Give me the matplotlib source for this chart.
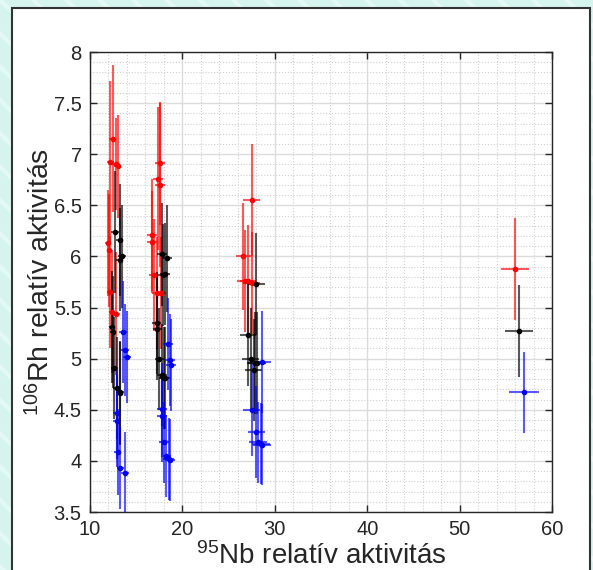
import matplotlib.pyplot as plt
from matplotlib.patches import Rectangle
from matplotlib.ticker import MultipleLocator

plt.rcParams['font.family'] = ['Liberation Sans', 'DejaVu Sans']
plt.rcParams['hatch.linewidth'] = 3.0

# red series
red_x = [12.45, 12.2, 12.8, 13.0, 11.9, 12.1, 12.2, 12.4, 12.8,
         17.6, 17.4, 17.6, 16.7, 16.7, 16.9, 17.2, 17.7,
         27.5, 26.6, 26.8, 27.1, 27.5, 56.0]
red_y = [7.15, 6.92, 6.90, 6.88, 6.13, 6.06, 5.65, 5.46, 5.44,
         6.91, 6.76, 6.70, 6.21, 6.14, 5.82, 5.64, 5.64,
         6.55, 6.00, 5.76, 5.76, 5.74, 5.88]
red_xerr = [0.35, 0.35, 0.4, 0.4, 0.3, 0.3, 0.35, 0.35, 0.4,
            0.55, 0.55, 0.55, 0.5, 0.5, 0.5, 0.5, 0.55,
            0.9, 0.8, 0.85, 0.85, 0.9, 1.5]
red_yerr = [0.72, 0.80, 0.45, 0.50, 0.52, 0.55, 0.55, 0.60, 0.60,
            0.60, 0.70, 0.80, 0.55, 0.50, 0.55, 0.55, 0.55,
            0.55, 0.52, 0.50, 0.55, 0.50, 0.50]

# black series
black_x = [12.7, 13.2, 13.2, 13.5, 12.4, 12.5, 12.6, 12.9, 13.2, 13.3,
           17.8, 18.3, 18.1, 17.9, 17.2, 17.3, 17.5, 17.8, 18.0, 18.1,
           28.0, 27.1, 27.4, 27.9, 27.7, 28.1, 56.4]
black_y = [6.24, 6.16, 5.97, 6.00, 5.31, 5.26, 4.91, 4.71, 4.66, 4.67,
           6.02, 5.98, 5.83, 5.82, 5.35, 5.29, 5.00, 4.84, 4.81, 4.81,
           5.73, 5.23, 5.00, 4.96, 4.89, 4.96, 5.27]
black_xerr = [0.4, 0.4, 0.4, 0.45, 0.35, 0.35, 0.35, 0.4, 0.4, 0.4,
              0.55, 0.55, 0.55, 0.55, 0.5, 0.5, 0.5, 0.55, 0.55, 0.55,
              0.95, 0.85, 0.9, 0.9, 0.9, 0.95, 1.5]
black_yerr = [0.60, 0.55, 0.50, 0.50, 0.55, 0.55, 0.50, 0.50, 0.50, 0.50,
              0.50, 0.52, 0.50, 0.50, 0.50, 0.50, 0.50, 0.50, 0.50, 0.50,
              0.50, 0.50, 0.50, 0.50, 0.50, 0.50, 0.45]

# blue series
blue_x = [13.6, 13.8, 14.0, 12.9, 12.9, 13.0, 13.3, 13.8,
          18.4, 18.7, 18.8, 17.8, 17.8, 18.0, 18.2, 18.5, 18.7,
          28.6, 27.5, 28.0, 28.2, 28.6, 28.5, 57.0]
blue_y = [5.26, 5.08, 5.02, 4.47, 4.39, 4.09, 3.93, 3.88,
          5.14, 4.99, 4.94, 4.51, 4.44, 4.18, 4.05, 4.02, 4.01,
          4.97, 4.50, 4.28, 4.18, 4.16, 4.17, 4.67]
blue_xerr = [0.45, 0.45, 0.45, 0.4, 0.4, 0.4, 0.4, 0.45,
             0.55, 0.55, 0.55, 0.55, 0.55, 0.55, 0.55, 0.55, 0.55,
             0.95, 0.9, 0.95, 0.95, 0.95, 0.95, 1.6]
blue_yerr = [0.50, 0.45, 0.45, 0.45, 0.45, 0.42, 0.40, 0.40,
             0.45, 0.45, 0.45, 0.45, 0.45, 0.40, 0.40, 0.40, 0.40,
             0.50, 0.45, 0.45, 0.40, 0.40, 0.40, 0.40]

fig = plt.figure(figsize=(5.93, 5.70), dpi=100)
fig.patch.set_facecolor('#d6f4ee')

# slide-like striped background and white panel
bg = Rectangle((0, 0), 1, 1, transform=fig.transFigure, facecolor='#d6f4ee',
               edgecolor='#e4f9f5', hatch='\\', linewidth=0, zorder=-3)
fig.patches.append(bg)
panel = Rectangle((12 / 593, -0.01), 578 / 593, 1 - 8 / 570 + 0.01,
                  transform=fig.transFigure, facecolor='white',
                  edgecolor='#333333', linewidth=1.5, zorder=-2)
fig.patches.append(panel)

ax = fig.add_axes([90 / 593, 1 - 512 / 570, 462 / 593, 460 / 570])

for xs, ys, xe, ye, col in [(red_x, red_y, red_xerr, red_yerr, 'red'),
                            (black_x, black_y, black_xerr, black_yerr, 'black'),
                            (blue_x, blue_y, blue_xerr, blue_yerr, 'blue')]:
    ax.errorbar(xs, ys, xerr=xe, yerr=ye, fmt='none', ecolor=col,
                elinewidth=1.5, alpha=0.65, capsize=0, zorder=3)
    ax.plot(xs, ys, '.', color=col, markersize=6, zorder=4)

ax.set_xlim(10, 60)
ax.set_ylim(3.5, 8)
ax.xaxis.set_major_locator(MultipleLocator(10))
ax.yaxis.set_major_locator(MultipleLocator(0.5))
ax.xaxis.set_minor_locator(MultipleLocator(2))
ax.yaxis.set_minor_locator(MultipleLocator(0.1))
ax.yaxis.set_major_formatter(plt.FuncFormatter(lambda v, p: f'{v:g}'))

ax.grid(which='major', color='#dcdcdc', linewidth=1.0)
ax.grid(which='minor', color='#d0d0d0', linestyle=':', linewidth=0.8)
ax.set_axisbelow(True)

ax.tick_params(which='major', direction='in', top=True, right=True,
               length=5, width=1, labelsize=14.5, colors='#262626',
               labelcolor='#262626', pad=6)
ax.tick_params(which='minor', length=0)
for s in ax.spines.values():
    s.set_color('#262626')
    s.set_linewidth(1.0)

ax.set_xlabel(r'$\mathregular{^{95}}$Nb relatív aktivitás', fontsize=20,
              color='#262626', labelpad=2)
ax.set_ylabel(r'$\mathregular{^{106}}$Rh relatív aktivitás', fontsize=20.5,
              color='#262626', labelpad=-1)

fig.savefig('out.png', dpi=100, facecolor=fig.get_facecolor())
